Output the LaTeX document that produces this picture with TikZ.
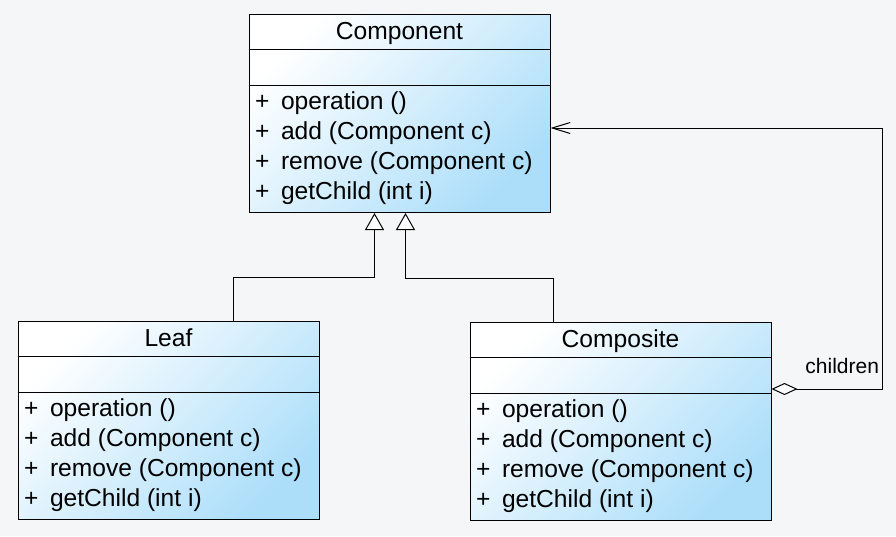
\documentclass[tikz,border=0pt]{standalone}
\usepackage{fontspec}
\setmainfont{Liberation Sans}
\usepackage{xcolor}
\usetikzlibrary{arrows.meta}
\definecolor{umlblue}{RGB}{172,222,250}
\definecolor{umlback}{RGB}{245,246,248}
\newcommand{\umlfont}{\fontsize{24.6}{30}\selectfont}

\begin{document}
\begin{tikzpicture}[x=1pt,y=-1pt,font=\umlfont,line width=1pt,
  classbox/.style={draw,anchor=north west,minimum width=301pt,minimum height=198.5pt,
    inner sep=0pt,top color=white,bottom color=umlblue,shading angle=45},
  optext/.style={anchor=base west,inner sep=0pt},
  inherit/.style={-{Triangle[width=19pt,length=17pt,fill=white]}},
  aggreg/.style={{Diamond[width=12pt,length=26pt,fill=white]}-{Straight Barb[width=11pt,length=18pt]}}]
\fill[umlback] (0,0) rectangle (896,536);
\useasboundingbox (0,0) rectangle (896,536);

\node[classbox] (comp) at (248.5,13.5) {};
\node[classbox] (leaf) at (17.5,320.5) {};
\node[classbox] (compo) at (469.5,321.5) {};

\foreach \cls/\title in {comp/Component,leaf/Leaf,compo/Composite} {
  \draw (\cls.north west) ++(0,35.5) -- ++(301,0);
  \draw (\cls.north west) ++(0,71.5) -- ++(301,0);
  \path (\cls.north) ++(0,26) node[anchor=base,inner sep=0pt] (\cls-name) {\title};
  \foreach \op [count=\i] in {operation (),add (Component c),remove (Component c),getChild (int i)} {
    \path (\cls.north west) ++(6,65.5+30*\i) node[optext] (\cls-plus\i) {+};
    \path (\cls.north west) ++(32,65.5+30*\i) node[optext] (\cls-op\i) {\op};
  }
}

% generalisation
\draw[inherit] ([xshift=65pt]leaf.north) -- ++(0,-43.5) -| ([xshift=-25pt]comp.south);
\draw[inherit] ([xshift=-67pt]compo.north) -- ++(0,-43.5) -| ([xshift=6pt]comp.south);

% aggregation
\coordinate (agg-start) at ([yshift=-67.5pt]compo.north east);
\coordinate (agg-end) at ([yshift=-114.5pt]comp.north east);
\draw[aggreg] (agg-start) -- ++(111,0) coordinate (agg-corner) |- (agg-end);
\node[anchor=base east,inner sep=0pt,font=\fontsize{21}{24}\selectfont] (children)
  at ([xshift=-3pt,yshift=16pt]agg-corner) {children};
\end{tikzpicture}
\end{document}
